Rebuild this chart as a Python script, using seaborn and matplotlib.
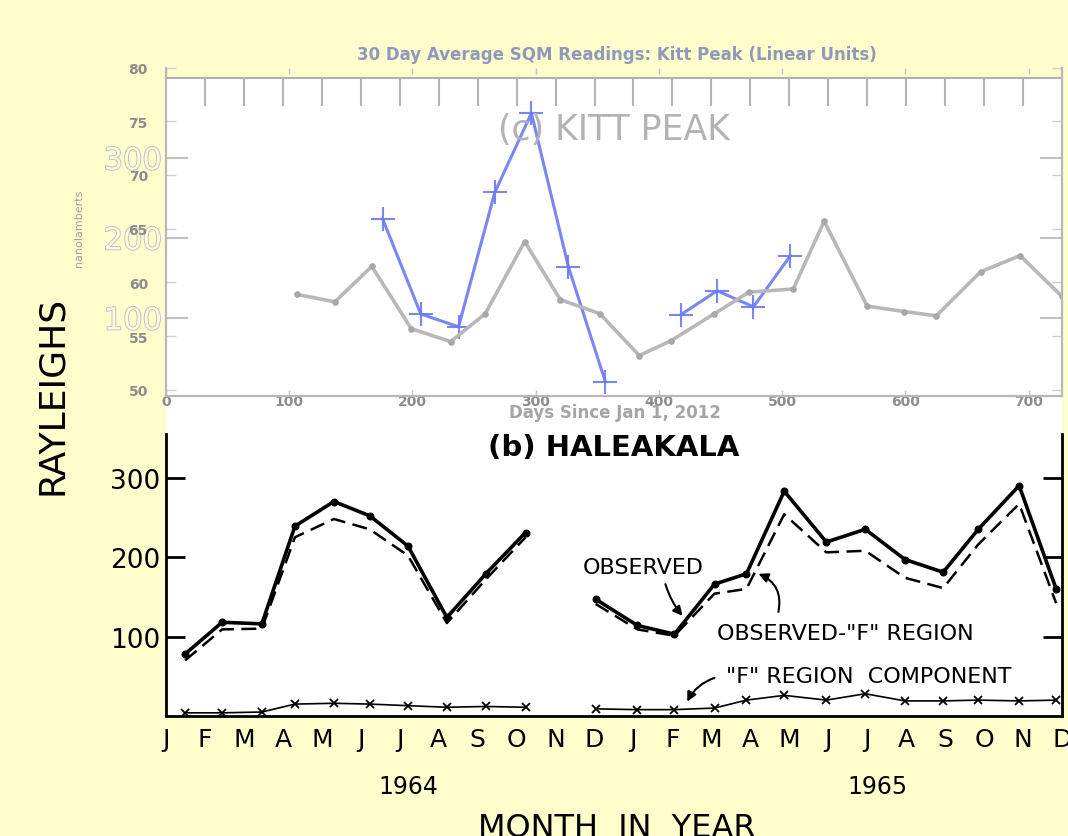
import matplotlib
matplotlib.use('Agg')
import matplotlib.pyplot as plt
import matplotlib.patheffects as pe
import seaborn as sns

sns.set_style('white')
plt.rcParams['font.family'] = ['DejaVu Sans']
plt.rcParams['text.color'] = 'black'
plt.rcParams['xtick.color'] = 'black'
plt.rcParams['ytick.color'] = 'black'

W, H = 1068, 837
BG = '#fefecc'
BLUE = '#6c79f2'
GRAY = '#b8b8b8'

# ── 데이터 ───────────────────────────────────────────────────
MONTHS = list('JFMAMJJASOND') * 2          # 1964 + 1965

# (b) Haleakala, x = 월 인덱스 (0 = 1964년 1월)
hal64_x   = [0.49, 1.44, 2.46, 3.31, 4.31, 5.23, 6.21, 7.21, 8.21, 9.23]
hal64_obs = [78, 118, 116, 239, 270, 252, 214, 124, 179, 231]
hal64_sub = [70, 109, 110, 225, 248, 235, 202, 117, 172, 225]
hal64_f   = [4, 4, 5, 15, 16, 15, 13, 11, 12, 11]

hal65_x   = [11.03, 12.10, 13.05, 14.08, 14.90, 15.87, 16.95, 17.95, 18.97, 19.95, 20.85, 21.90, 22.85]
hal65_obs = [147, 114, 103, 166, 179, 283, 219, 235, 197, 181, 235, 290, 160]
hal65_sub = [141, 109, 101, 154, 160, 254, 206, 208, 174, 161, 216, 267, 142]
hal65_f   = [9, 8, 8, 10, 20, 26, 20, 28, 19, 19, 20, 19, 20]

# (c) Kitt Peak (옛 그림, Rayleighs)
kitt64_x = [5.56, 6.54, 7.51, 8.44, 9.38, 10.33, 11.28]
kitt64_r = [224, 105, 89, 257, 356, 164, 20]
kitt65_x = [13.21, 14.15, 15.08, 16.03]
kitt65_r = [104, 134, 114, 178]

# 30일 평균 SQM (Days since Jan 1, 2012)
sqm_day = [106, 137, 167, 199, 231, 259, 291, 320, 352, 384, 410,
           445, 473, 509, 534, 569, 599, 625, 661, 693, 727]
sqm_val = [58.9, 58.2, 61.5, 55.7, 54.5, 57.1, 63.8, 58.4, 57.1, 53.2, 54.6,
           57.1, 59.1, 59.4, 65.7, 57.8, 57.3, 56.9, 61.0, 62.5, 58.7]

RAY_TICKS = [100, 200, 300]
SQM_TICKS = [50, 55, 60, 65, 70, 75, 80]
DAY_TICKS = [0, 100, 200, 300, 400, 500, 600, 700]


def px_rect(left, top, right, bottom):
    return [left / W, 1 - bottom / H, (right - left) / W, (bottom - top) / H]


def ftext(x, y, s, **kw):
    fig.text(x / W, 1 - y / H, s, **kw)


fig = plt.figure(figsize=(W / 100, H / 100), dpi=100, facecolor=BG)

# 흰 바탕 (옛 그림 영역)
ax_bg = fig.add_axes(px_rect(166, 79, 1062, 718))
ax_bg.set_facecolor('white')
ax_bg.set_xticks([]); ax_bg.set_yticks([])
for s in ax_bg.spines.values():
    s.set_visible(False)

# ── (c) KITT PEAK: 옛 그림 ───────────────────────────────────
ax_c = fig.add_axes(px_rect(166, 79, 1062, 399))
ax_c.set_facecolor('none')
for xs, ys in [(kitt64_x, kitt64_r), (kitt65_x, kitt65_r)]:
    sns.lineplot(x=xs, y=ys, ax=ax_c, color=BLUE, lw=2.2, alpha=0.9,
                 marker='+', markersize=17, mew=1.5, mec=BLUE, sort=False)
ax_c.set_xlim(0, 23)
ax_c.set_ylim(0, 400)
ax_c.set_xticks(range(1, 23))
ax_c.tick_params(axis='x', direction='in', length=20, width=1.5, colors='#b4b4b4',
                 top=True, bottom=False, labelbottom=False)
ax_c.set_yticks(RAY_TICKS)
ax_c.set_yticklabels([str(v) for v in RAY_TICKS], fontsize=22)
ax_c.tick_params(axis='y', direction='in', length=16, width=1.5, colors='#c0c0c0',
                 left=True, right=True, pad=3)
for lbl in ax_c.get_yticklabels():
    lbl.set_color(BG)
    lbl.set_path_effects([pe.Stroke(linewidth=1.2, foreground='#b0b8e0'), pe.Normal()])
for k, s in ax_c.spines.items():
    s.set_visible(k == 'top')
ax_c.spines['top'].set_color('#b0b0b0')
ax_c.spines['top'].set_linewidth(1.5)
ax_c.set_xlabel(''); ax_c.set_ylabel('')
ax_c.text(11.5, 336, '(c) KITT PEAK', fontsize=25, color='#b3b3b3',
          ha='center', va='center')

# ── SQM 덧그림 ───────────────────────────────────────────────
ax_s = fig.add_axes(px_rect(166, 68.5, 1062, 397))
ax_s.set_facecolor('none')
sns.lineplot(x=sqm_day, y=sqm_val, ax=ax_s, color=GRAY, lw=2.6,
             marker='o', markersize=4, mec='#a8a8a8', mfc='#a8a8a8', sort=False)
ax_s.set_xlim(0, 727)
ax_s.set_ylim(49.44, 80)
ax_s.set_xticks(DAY_TICKS)
ax_s.set_xticklabels([str(v) for v in DAY_TICKS], fontsize=10, fontweight='bold')
ax_s.tick_params(axis='x', direction='in', length=4, width=1, colors='#c4c4c4',
                 top=True, bottom=True, pad=-1.5, labelcolor='#8c8c8c')
ax_s.set_yticks(SQM_TICKS)
ax_s.set_yticklabels([str(v) for v in SQM_TICKS], fontsize=10, fontweight='bold')
ax_s.tick_params(axis='y', direction='in', length=7, width=1, colors='#cfcfcf',
                 left=True, right=True, pad=13, labelcolor='#8c8c8c')
ax_s.spines['top'].set_visible(False)
for k in ['left', 'bottom', 'right']:
    ax_s.spines[k].set_color('#b8b8b8')
    ax_s.spines[k].set_linewidth(1.6)
ax_s.set_xlabel(''); ax_s.set_ylabel('')

ftext(617, 55, '30 Day Average SQM Readings: Kitt Peak (Linear Units)',
      fontsize=12, fontweight='bold', color='#9298bb', ha='center', va='center')
ftext(615, 413, 'Days Since Jan 1, 2012', fontsize=12, fontweight='bold',
      color='#a5a5a5', ha='center', va='center')
ftext(79, 228, 'nanolamberts', fontsize=8, color='#a0a0a0', rotation=90,
      ha='center', va='center')

# ── (b) HALEAKALA ────────────────────────────────────────────
ax_b = fig.add_axes(px_rect(166, 435, 1062, 717))
ax_b.set_facecolor('none')
for xs, obs, sub, fr in [(hal64_x, hal64_obs, hal64_sub, hal64_f),
                         (hal65_x, hal65_obs, hal65_sub, hal65_f)]:
    sns.lineplot(x=xs, y=sub, ax=ax_b, color='black', lw=1.8,
                 linestyle=(0, (6, 3)), sort=False)
    sns.lineplot(x=xs, y=obs, ax=ax_b, color='black', lw=2.6,
                 marker='o', markersize=5, mec='black', mfc='black', sort=False)
    sns.lineplot(x=xs, y=fr, ax=ax_b, color='black', lw=1.2,
                 marker='x', markersize=6, mew=1.3, mec='black', sort=False)
ax_b.set_xlim(0, 23)
ax_b.set_ylim(0, 355)
ax_b.set_xticks(range(len(MONTHS)))
ax_b.set_xticklabels(MONTHS, fontsize=18)
ax_b.tick_params(axis='x', direction='in', length=15, width=1.5, pad=8,
                 colors='black')
ax_b.set_yticks(RAY_TICKS)
ax_b.set_yticklabels([str(v) for v in RAY_TICKS], fontsize=19)
ax_b.tick_params(axis='y', direction='in', length=14, width=2,
                 left=True, right=True, pad=4, colors='black')
ax_b.spines['top'].set_visible(False)
for k in ['left', 'bottom', 'right']:
    ax_b.spines[k].set_color('black')
    ax_b.spines[k].set_linewidth(2)
ax_b.set_xlabel(''); ax_b.set_ylabel('')

ax_b.text(11.5, 339, '(b) HALEAKALA', fontsize=21, fontweight='bold',
          ha='center', va='center')

arrow_kw = dict(arrowstyle='-|>', color='black', lw=1.5, mutation_scale=14,
                shrinkA=0, shrinkB=0)
ax_b.text(12.26, 187, 'OBSERVED', fontsize=16, ha='center', va='center')
ax_b.annotate('', xy=(13.26, 126), xytext=(12.82, 166),
              arrowprops=dict(**arrow_kw, connectionstyle='arc3,rad=0.1'))
ax_b.text(17.44, 104, 'OBSERVED-"F" REGION', fontsize=16, ha='center', va='center')
ax_b.annotate('', xy=(15.21, 179), xytext=(15.72, 131),
              arrowprops=dict(**arrow_kw, connectionstyle='arc3,rad=0.4'))
ax_b.text(18.05, 50, '"F" REGION  COMPONENT', fontsize=16, ha='center', va='center')
ax_b.annotate('', xy=(13.38, 18), xytext=(14.08, 48),
              arrowprops=dict(**arrow_kw, connectionstyle='arc3,rad=0.2'))

ftext(52, 395, 'RAYLEIGHS', fontsize=26, rotation=90, ha='center', va='center')
ftext(408, 787, '1964', fontsize=17, ha='center', va='center')
ftext(877, 787, '1965', fontsize=17, ha='center', va='center')
ftext(617, 813, 'MONTH  IN  YEAR', fontsize=23, ha='center', va='top')

fig.savefig('out.png', dpi=100, facecolor=BG)
plt.close(fig)
